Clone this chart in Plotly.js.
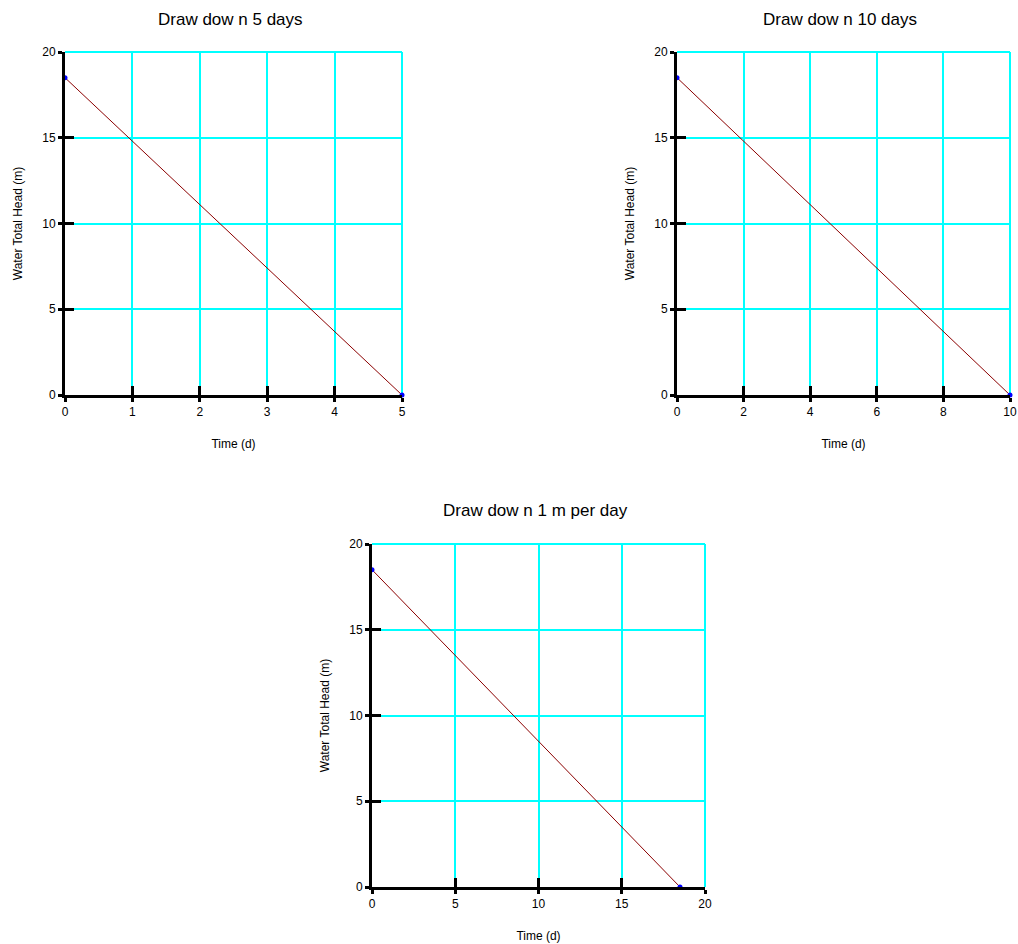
<!DOCTYPE html>
<html>
<head>
<meta charset="utf-8">
<script src="https://cdn.plot.ly/plotly-3.0.1.min.js"></script>
<style>html,body{margin:0;padding:0;background:#fff;}#chart{width:1018px;height:944px;}</style>
</head>
<body>
<div id="chart"></div>
<script>
// Drawdown scenarios: water total head falling linearly to zero
const titles = ["Draw dow n 5 days", "Draw dow n 10 days", "Draw dow n 1 m per day"];
const timeA = [0, 5];
const headA = [18.5, 0];
const timeB = [0, 10];
const headB = [18.5, 0];
const timeC = [0, 18.5];
const headC = [18.5, 0];
const xMax = [5, 10, 20];
const xStep = [1, 2, 5];
const yMax = 20;
const yStep = 5;
const xTitle = "Time (d)";
const yTitle = "Water Total Head (m)";

const W = 1018, H = 944;
// pixel boxes of the three panels: [left, right, top, bottom]
const boxes = [[65, 402, 52, 395], [677, 1010, 52, 395], [372, 705, 544, 887]];
const series = [[timeA, headA], [timeB, headB], [timeC, headC]];

const FONT = "Liberation Sans, Arial, sans-serif";
const GRID = "#00ffff";
const traces = [];
const layout = {
  width: W, height: H,
  margin: {l: 0, r: 0, t: 0, b: 0},
  paper_bgcolor: "#fff", plot_bgcolor: "rgba(0,0,0,0)",
  showlegend: false,
  font: {family: FONT, size: 12, color: "#000"},
  annotations: [],
  shapes: []
};

boxes.forEach((b, i) => {
  const xd = [b[0] / W, b[1] / W];
  const yd = [1 - b[3] / H, 1 - b[2] / H];
  const n = i + 1;
  const xn = n === 1 ? "" : n, yn = n === 1 ? "" : n;
  const on = n + 3; // overlay axes carry the inward half of the crossing ticks
  traces.push({
    x: series[i][0], y: series[i][1],
    xaxis: "x" + xn, yaxis: "y" + yn,
    mode: "lines+markers", cliponaxis: false,
    line: {color: "#8b0000", width: 1},
    marker: {color: "#0000ff", size: 5},
    hoverinfo: "skip"
  });
  traces.push({x: [], y: [], xaxis: "x" + on, yaxis: "y" + on, hoverinfo: "skip"});

  const common = {showgrid: true, gridcolor: GRID, gridwidth: 2,
    zeroline: false, showline: true, linecolor: "#000", linewidth: 3,
    ticks: "outside", ticklen: 4, tickwidth: 3, tickcolor: "#000",
    tickfont: {family: FONT, size: 12, color: "#000"}};
  layout["xaxis" + xn] = Object.assign({}, common, {
    domain: xd, anchor: "y" + yn, range: [0, xMax[i]], dtick: xStep[i], tick0: 0,
    title: {text: xTitle, font: {family: FONT, size: 12}, standoff: 22}
  });
  layout["yaxis" + yn] = Object.assign({}, common, {
    domain: yd, anchor: "x" + xn, range: [0, yMax], dtick: yStep, tick0: 0,
    title: {text: yTitle, font: {family: FONT, size: 12}, standoff: 18}
  });
  const ov = {showgrid: false, zeroline: false, showline: false, showticklabels: false,
    ticks: "inside", ticklen: 9, tickwidth: 3, tickcolor: "#000"};
  layout["xaxis" + on] = Object.assign({}, ov, {
    domain: xd, anchor: "y" + on, overlaying: "x" + xn, range: [0, xMax[i]], dtick: xStep[i], tick0: 0
  });
  layout["yaxis" + on] = Object.assign({}, ov, {
    domain: yd, anchor: "x" + on, overlaying: "y" + yn, range: [0, yMax], dtick: yStep, tick0: 0
  });
  // cyan frame along the top and right edges of the plotting area
  const xr = "x" + xn + " domain", yr = "y" + yn + " domain";
  layout.shapes.push({type: "line", xref: xr, yref: yr, x0: 0, x1: 1, y0: 1, y1: 1,
    line: {color: GRID, width: 2}, layer: "below"});
  layout.shapes.push({type: "line", xref: xr, yref: yr, x0: 1, x1: 1, y0: 0, y1: 1,
    line: {color: GRID, width: 2}, layer: "below"});
  layout.annotations.push({
    text: titles[i], showarrow: false, xref: "paper", yref: "paper",
    x: (xd[0] + xd[1]) / 2 - 0.003, y: 1 - (b[2] - 33) / H, yanchor: "middle", xanchor: "center",
    font: {family: FONT, size: 17, color: "#000"}
  });
});

Plotly.newPlot("chart", traces, layout, {displayModeBar: false, staticPlot: true});
</script>
</body>
</html>
